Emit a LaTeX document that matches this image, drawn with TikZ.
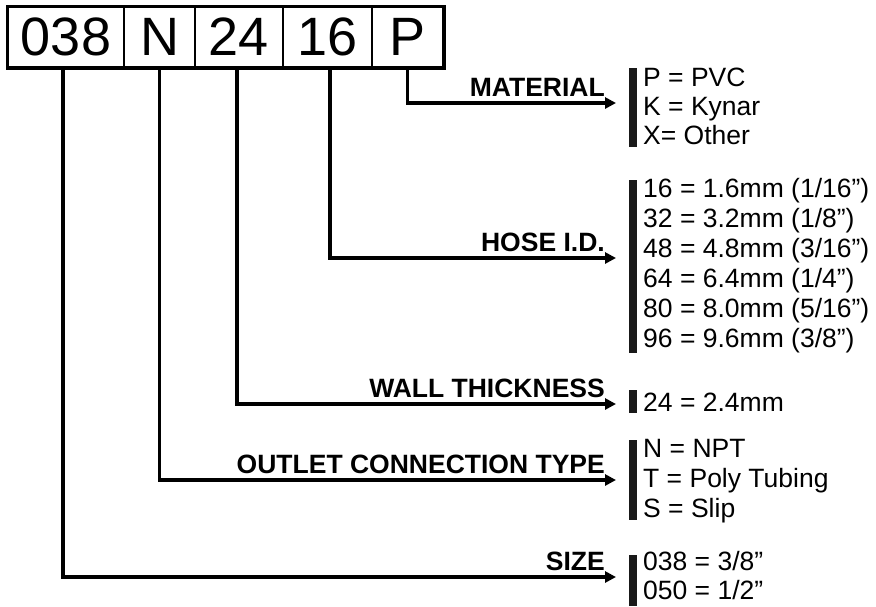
\documentclass[tikz,border=0pt]{standalone}
\usepackage{fontspec}
\setmainfont{Liberation Sans}
\usetikzlibrary{arrows.meta}
\begin{document}
\begin{tikzpicture}[x=1pt,y=-1pt,
  cell/.style={draw, line width=2pt, minimum height=60pt, inner sep=0pt, font=\fontsize{54}{54}\selectfont},
  conn/.style={line width=3.5pt, -{Triangle[length=11pt,width=11pt]}},
  lab/.style={anchor=south east, inner sep=0pt, font=\fontsize{26.5}{26.5}\selectfont\bfseries},
  vals/.style={anchor=west, inner sep=0pt, align=left, font=\fontsize{26.5}{30}\selectfont},
  bar/.style={fill=black!90}]
\useasboundingbox (0,0) rectangle (876,606);
% header cells
\node[cell, minimum width=116pt] (c1) at (66,37) {038};
\node[cell, minimum width=71pt] (c2) at (159.5,37) {N};
\node[cell, minimum width=88pt] (c3) at (239,37) {24};
\node[cell, minimum width=89pt] (c4) at (327.5,37) {16};
\node[cell, minimum width=71pt] (c5) at (407.5,37) {P};
\draw[line width=3pt] (c1.north west) rectangle (c5.south east);
% arrow ends
\coordinate (a5) at (616,103);
\coordinate (a4) at (616,258);
\coordinate (a3) at (616,404);
\coordinate (a2) at (616,480);
\coordinate (a1) at (616,577);
% connectors
\draw[conn] (c5.south) |- (a5);
\draw[conn] ([xshift=2.5pt]c4.south) |- (a4);
\draw[conn] ([xshift=-2pt]c3.south) |- (a3);
\draw[conn] (c2.south) |- (a2);
\draw[conn] ([xshift=-3pt]c1.south) |- (a1);
% labels
\node[lab] (l5) at (605,96.5) {MATERIAL};
\node[lab] (l4) at (605,251.5) {HOSE I.D.};
\node[lab] (l3) at (605,397.5) {WALL THICKNESS};
\node[lab] (l2) at (605,473.5) {OUTLET CONNECTION TYPE};
\node[lab] (l1) at (605,570.5) {SIZE};
% bars
\fill[bar] (629,68) rectangle (637,147);
\fill[bar] (629,180) rectangle (637,353);
\fill[bar] (629,390) rectangle (637,413);
\fill[bar] (629,440) rectangle (637,520);
\fill[bar] (629,555) rectangle (637,606);
% values
\node[vals, font=\fontsize{26.5}{29}\selectfont] (v5) at (643,106) {P = PVC\\K = Kynar\\X= Other};
\node[vals] (v4) at (643,266) {16 = 1.6mm (1/16”)\\32 = 3.2mm (1/8”)\\48 = 4.8mm (3/16”)\\64 = 6.4mm (1/4”)\\80 = 8.0mm (5/16”)\\96 = 9.6mm (3/8”)};
\node[vals] (v3) at (643,402) {24 = 2.4mm};
\node[vals] (v2) at (643,481) {N = NPT\\T = Poly Tubing\\S = Slip};
\node[vals, font=\fontsize{26.5}{29}\selectfont] (v1) at (643,575.5) {038 = 3/8”\\050 = 1/2”};
\end{tikzpicture}
\end{document}
